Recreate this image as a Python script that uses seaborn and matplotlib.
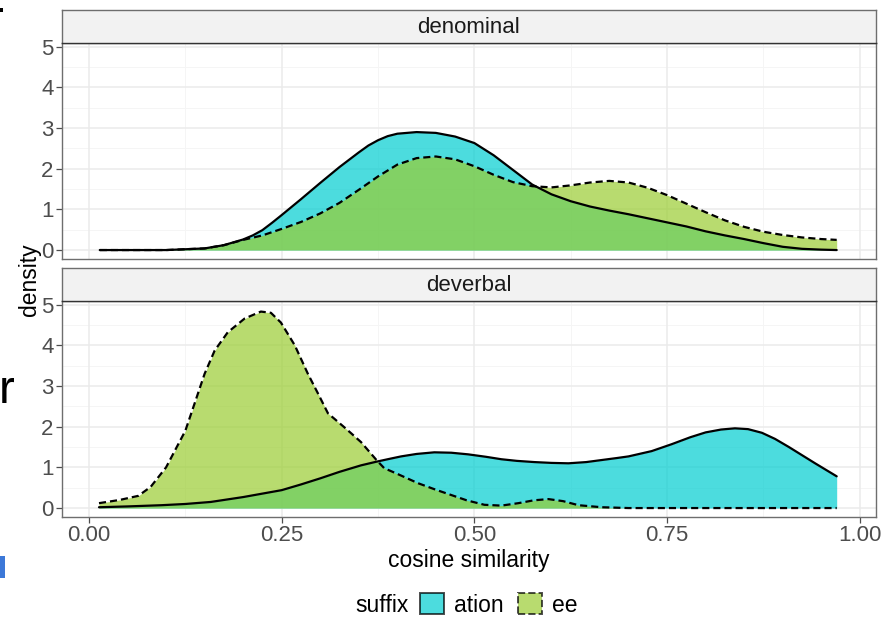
import numpy as np
import pandas as pd
import matplotlib
matplotlib.use("Agg")
import matplotlib.pyplot as plt
import seaborn as sns
from matplotlib.patches import Patch, Rectangle

# ---------------- data ----------------
facets = ["denominal", "deverbal"]
suffixes = ["ation", "ee"]
x_ticks = [0.00, 0.25, 0.50, 0.75, 1.00]
x_tick_labels = ["0.00", "0.25", "0.50", "0.75", "1.00"]
y_ticks = [0, 1, 2, 3, 4, 5]

den_ation_x = [0.014, 0.10, 0.15, 0.175, 0.20, 0.2125, 0.225, 0.2375, 0.25, 0.275, 0.30, 0.325,
               0.35, 0.3625, 0.375, 0.3875, 0.40, 0.425, 0.45, 0.475, 0.50, 0.525, 0.55, 0.575,
               0.60, 0.625, 0.65, 0.675, 0.70, 0.725, 0.75, 0.775, 0.80, 0.825, 0.85, 0.875,
               0.90, 0.925, 0.95, 0.97]
den_ation_y = [0.0, 0.0, 0.04, 0.12, 0.26, 0.36, 0.49, 0.67, 0.86, 1.25, 1.65, 2.04,
               2.40, 2.57, 2.70, 2.80, 2.86, 2.90, 2.88, 2.79, 2.63, 2.33, 1.97, 1.61,
               1.37, 1.20, 1.07, 0.97, 0.88, 0.78, 0.68, 0.58, 0.46, 0.36, 0.27, 0.17,
               0.08, 0.03, 0.01, 0.0]

den_ee_x = [0.014, 0.10, 0.15, 0.175, 0.20, 0.225, 0.25, 0.275, 0.30, 0.325, 0.35, 0.375,
            0.40, 0.425, 0.45, 0.475, 0.50, 0.525, 0.55, 0.575, 0.60, 0.625, 0.65, 0.675,
            0.70, 0.725, 0.75, 0.775, 0.80, 0.825, 0.85, 0.875, 0.90, 0.925, 0.95, 0.97]
den_ee_y = [0.0, 0.0, 0.04, 0.12, 0.25, 0.36, 0.52, 0.69, 0.90, 1.16, 1.48, 1.81,
            2.10, 2.26, 2.30, 2.23, 2.06, 1.85, 1.67, 1.57, 1.54, 1.59, 1.66, 1.70,
            1.66, 1.53, 1.35, 1.14, 0.93, 0.73, 0.57, 0.45, 0.37, 0.31, 0.27, 0.25]

dev_ation_x = [0.013, 0.05, 0.094, 0.125, 0.158, 0.20, 0.25, 0.275, 0.30, 0.325, 0.353, 0.373,
               0.39, 0.405, 0.425, 0.448, 0.47, 0.492, 0.515, 0.535, 0.555, 0.578, 0.60, 0.622,
               0.645, 0.665, 0.685, 0.70, 0.73, 0.756, 0.78, 0.80, 0.82, 0.838, 0.855, 0.873,
               0.89, 0.908, 0.925, 0.942, 0.956, 0.97]
dev_ation_y = [0.02, 0.04, 0.07, 0.10, 0.15, 0.27, 0.44, 0.58, 0.73, 0.89, 1.05, 1.14,
               1.21, 1.27, 1.33, 1.37, 1.36, 1.32, 1.26, 1.20, 1.16, 1.13, 1.11, 1.10,
               1.13, 1.18, 1.23, 1.27, 1.40, 1.57, 1.74, 1.86, 1.93, 1.96, 1.94, 1.85,
               1.70, 1.50, 1.30, 1.10, 0.94, 0.78]

dev_ee_x = [0.013, 0.04, 0.064, 0.08, 0.10, 0.125, 0.137, 0.15, 0.163, 0.18, 0.202, 0.223,
            0.236, 0.249, 0.267, 0.284, 0.297, 0.31, 0.331, 0.34, 0.353, 0.373, 0.383, 0.40,
            0.427, 0.45, 0.47, 0.49, 0.513, 0.535, 0.557, 0.577, 0.596, 0.615, 0.635, 0.665,
            0.70, 0.97]
dev_ee_y = [0.12, 0.20, 0.30, 0.52, 1.00, 1.90, 2.57, 3.30, 3.87, 4.32, 4.66, 4.83,
            4.80, 4.56, 4.00, 3.30, 2.82, 2.33, 1.99, 1.84, 1.62, 1.18, 0.98, 0.84,
            0.61, 0.45, 0.32, 0.19, 0.08, 0.06, 0.12, 0.19, 0.22, 0.17, 0.07, 0.02,
            0.0, 0.0]

series = {
    ("denominal", "ation"): (den_ation_x, den_ation_y),
    ("denominal", "ee"): (den_ee_x, den_ee_y),
    ("deverbal", "ation"): (dev_ation_x, dev_ation_y),
    ("deverbal", "ee"): (dev_ee_x, dev_ee_y),
}
frames = []
for (fac, suf), (xs, ys) in series.items():
    frames.append(pd.DataFrame({"type": fac, "suffix": suf,
                                "cosine similarity": xs, "density": ys}))
df = pd.concat(frames, ignore_index=True)

# ---------------- styling ----------------
sns.set_theme(style="white")
plt.rcParams["font.family"] = ["Liberation Sans", "DejaVu Sans"]

fill_colors = {"ation": "#00CED1", "ee": "#9ACD32"}
line_styles = {"ation": "-", "ee": (0, (3.2, 1.8))}
grid_major = "#EBEBEB"
grid_minor = "#F5F5F5"
border_col = "#6E6E6E"
tick_col = "#4D4D4D"
tick_fs = 16
title_fs = 16.5
strip_fs = 16

W, H = 884, 617
fig = plt.figure(figsize=(W / 100, H / 100), dpi=100)

left_px, right_px = 62, 876
panels_px = [(43, 259), (301, 517)]   # (top, bottom) of each panel
strip_h = 33

xlim = (-0.035, 1.021)
ylim = (-0.22, 5.09)

axes = []
for i, fac in enumerate(facets):
    top, bot = panels_px[i]
    ax = fig.add_axes([left_px / W, 1 - bot / H, (right_px - left_px) / W, (bot - top) / H])
    axes.append(ax)
    ax.set_facecolor("white")
    ax.set_xlim(*xlim)
    ax.set_ylim(*ylim)
    # grid
    for gx in [0.125, 0.375, 0.625, 0.875]:
        ax.axvline(gx, color=grid_minor, lw=0.7, zorder=0)
    for gy in [0.5, 1.5, 2.5, 3.5, 4.5]:
        ax.axhline(gy, color=grid_minor, lw=0.7, zorder=0)
    for gx in x_ticks:
        ax.axvline(gx, color=grid_major, lw=1.1, zorder=0)
    for gy in y_ticks:
        ax.axhline(gy, color=grid_major, lw=1.1, zorder=0)

    sub = df[df["type"] == fac]
    for suf in suffixes:
        d = sub[sub["suffix"] == suf]
        ax.fill_between(d["cosine similarity"], 0, d["density"],
                        color=fill_colors[suf], alpha=0.7, lw=0, zorder=2)
        sns.lineplot(data=d, x="cosine similarity", y="density", ax=ax,
                     color="black", lw=1.6, linestyle=line_styles[suf],
                     sort=False, estimator=None, zorder=3, legend=False)
    ax.set_xlabel("")
    ax.set_ylabel("")
    ax.set_yticks(y_ticks)
    ax.set_yticklabels([str(v) for v in y_ticks])
    ax.set_xticks(x_ticks)
    if i == 1:
        ax.set_xticklabels(x_tick_labels)
    else:
        ax.set_xticklabels([])
        ax.tick_params(axis="x", length=0)
    ax.tick_params(axis="both", which="both", direction="out", length=4, width=0.9,
                   color=tick_col, labelcolor=tick_col, labelsize=tick_fs, pad=2,
                   left=True, bottom=(i == 1))
    for s in ax.spines.values():
        s.set_color(border_col)
        s.set_linewidth(1.0)
        s.set_visible(True)

    # strip
    sax = fig.add_axes([left_px / W, 1 - top / H, (right_px - left_px) / W, strip_h / H])
    sax.set_facecolor("#F2F2F2")
    sax.set_xticks([])
    sax.set_yticks([])
    for s in sax.spines.values():
        s.set_color(border_col)
        s.set_linewidth(1.0)
    sax.spines["bottom"].set_color("#333333")
    sax.text(0.5, 0.47, fac, ha="center", va="center", fontsize=strip_fs, color="#1A1A1A",
             transform=sax.transAxes)

# axis titles
fig.text((left_px + right_px) / 2 / W, 1 - 560 / H, "cosine similarity",
         ha="center", va="center", fontsize=title_fs, color="black")
fig.text(30 / W, 1 - 280 / H, "density", ha="center", va="center",
         rotation=90, fontsize=title_fs, color="black")

# legend
fig.text(382 / W, 1 - 605 / H, "suffix", ha="center", va="center", fontsize=title_fs,
         color="black")
handles = [Patch(facecolor=fill_colors["ation"], alpha=0.7, edgecolor="black", lw=1.4,
                 linestyle="-", label="ation"),
           Patch(facecolor=fill_colors["ee"], alpha=0.7, edgecolor="black", lw=1.4,
                 linestyle="--", label="ee")]
leg = fig.legend(handles=handles, loc="center left", ncol=2, frameon=False,
                 bbox_to_anchor=(420 / W, 1 - 605 / H), fontsize=title_fs,
                 handlelength=1.05, handleheight=1.0, handletextpad=0.45,
                 columnspacing=0.6, borderaxespad=0, borderpad=0)
for t in leg.get_texts():
    t.set_color("black")
for p in leg.get_patches():
    p.set_edgecolor("black")

# slide fragments visible at the left edge of the screenshot
fig.text(-1 / W, 1 - 403 / H, "r", ha="left", va="baseline", fontsize=34, color="black")
fig.patches.append(Rectangle((0, 1 - 578 / H), 5 / W, 22 / H, transform=fig.transFigure,
                             facecolor="#3C78D8", edgecolor="none"))
fig.patches.append(Rectangle((0, 1 - 12 / H), 3 / W, 4 / H, transform=fig.transFigure,
                             facecolor="black", edgecolor="none"))

fig.savefig("out.png", dpi=100)
